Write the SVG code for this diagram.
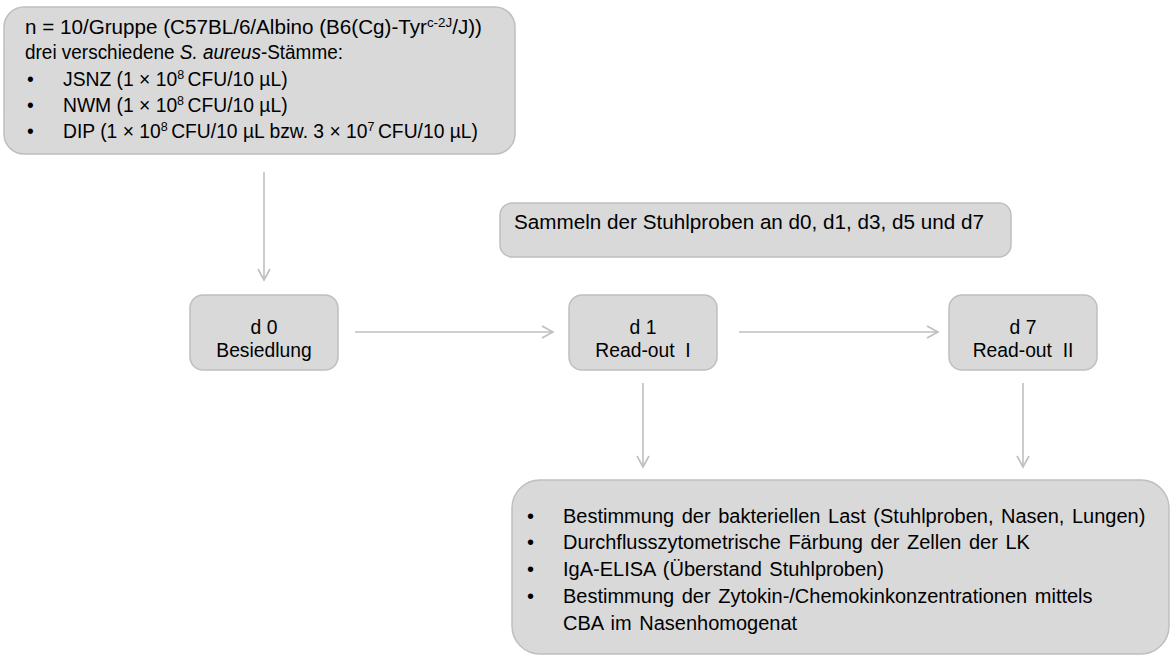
<svg xmlns="http://www.w3.org/2000/svg" width="1172" height="657" viewBox="0 0 1172 657">
<defs>
<style>
.box{fill:#d9d9d9;stroke:#bfbfbf;stroke-width:1.5}
text{font-family:"Liberation Sans",Arial,sans-serif;font-size:19.3px;fill:#000}
.c{text-anchor:middle}
.sup{font-size:12.5px}
.big{font-size:20px;word-spacing:2px}
.con{stroke:#bfbfbf;stroke-width:1.6;fill:none}
</style>
<marker id="ah" viewBox="0 0 14 14" refX="12" refY="7" markerWidth="14" markerHeight="14" markerUnits="userSpaceOnUse" orient="auto">
<path d="M1,1 L12,7 L1,13" fill="none" stroke="#bfbfbf" stroke-width="1.6"/>
</marker>
</defs>
<rect width="1172" height="657" fill="#ffffff"/>

<g id="connectors">
<line class="con" x1="264" y1="172" x2="264" y2="280" marker-end="url(#ah)"/>
<line class="con" x1="355" y1="332" x2="553" y2="332" marker-end="url(#ah)"/>
<line class="con" x1="739" y1="332" x2="938" y2="332" marker-end="url(#ah)"/>
<line class="con" x1="643" y1="383" x2="643" y2="467" marker-end="url(#ah)"/>
<line class="con" x1="1023" y1="383" x2="1023" y2="467" marker-end="url(#ah)"/>
</g>

<g id="groups">
<rect class="box" x="4" y="7" width="511" height="147" rx="20"/>
<text x="25" y="34" textLength="457" lengthAdjust="spacingAndGlyphs">n = 10/Gruppe (C57BL/6/Albino (B6(Cg)-Tyr<tspan class="sup" dy="-7">c-2J</tspan><tspan dy="7">/J))</tspan></text>
<text x="25" y="59" textLength="318" lengthAdjust="spacingAndGlyphs">drei verschiedene <tspan font-style="italic">S. aureus</tspan>-Stämme:</text>
<text x="27" y="86">•</text>
<text x="63" y="86">JSNZ (1 × 10<tspan class="sup" dy="-7">8 </tspan><tspan dy="7">CFU/10 µL)</tspan></text>
<text x="27" y="112">•</text>
<text x="63" y="112">NWM (1 × 10<tspan class="sup" dy="-7">8 </tspan><tspan dy="7">CFU/10 µL)</tspan></text>
<text x="27" y="138">•</text>
<text x="63" y="138">DIP (1 × 10<tspan class="sup" dy="-7">8 </tspan><tspan dy="7">CFU/10 µL bzw. 3 × 10</tspan><tspan class="sup" dy="-7">7 </tspan><tspan dy="7">CFU/10 µL)</tspan></text>
</g>

<g id="sampling">
<rect class="box" x="500" y="203" width="511" height="54" rx="12"/>
<text x="514" y="229" style="font-size:20.5px" textLength="470" lengthAdjust="spacingAndGlyphs">Sammeln der Stuhlproben an d0, d1, d3, d5 und d7</text>
</g>

<g id="d0">
<rect class="box" x="190" y="295" width="148" height="75" rx="13"/>
<text class="c" x="264" y="334">d 0</text>
<text class="c" x="264" y="357">Besiedlung</text>
</g>

<g id="d1">
<rect class="box" x="569" y="295" width="148" height="75" rx="13"/>
<text class="c" x="643" y="334">d 1</text>
<text class="c" x="643" y="357">Read-out&#160; I</text>
</g>

<g id="d7">
<rect class="box" x="949" y="295" width="148" height="75" rx="13"/>
<text class="c" x="1023" y="334">d 7</text>
<text class="c" x="1023" y="357">Read-out&#160; II</text>
</g>

<g id="readout">
<rect class="box" x="512" y="480" width="657" height="174" rx="28"/>
<text class="big" x="527" y="523">•</text>
<text class="big" x="563" y="523">Bestimmung der bakteriellen Last (Stuhlproben, Nasen, Lungen)</text>
<text class="big" x="527" y="549">•</text>
<text class="big" x="563" y="549">Durchflusszytometrische Färbung der Zellen der LK</text>
<text class="big" x="527" y="576">•</text>
<text class="big" x="563" y="576">IgA-ELISA (Überstand Stuhlproben)</text>
<text class="big" x="527" y="603">•</text>
<text class="big" x="563" y="603">Bestimmung der Zytokin-/Chemokinkonzentrationen mittels</text>
<text class="big" x="563" y="630">CBA im Nasenhomogenat</text>
</g>
</svg>
